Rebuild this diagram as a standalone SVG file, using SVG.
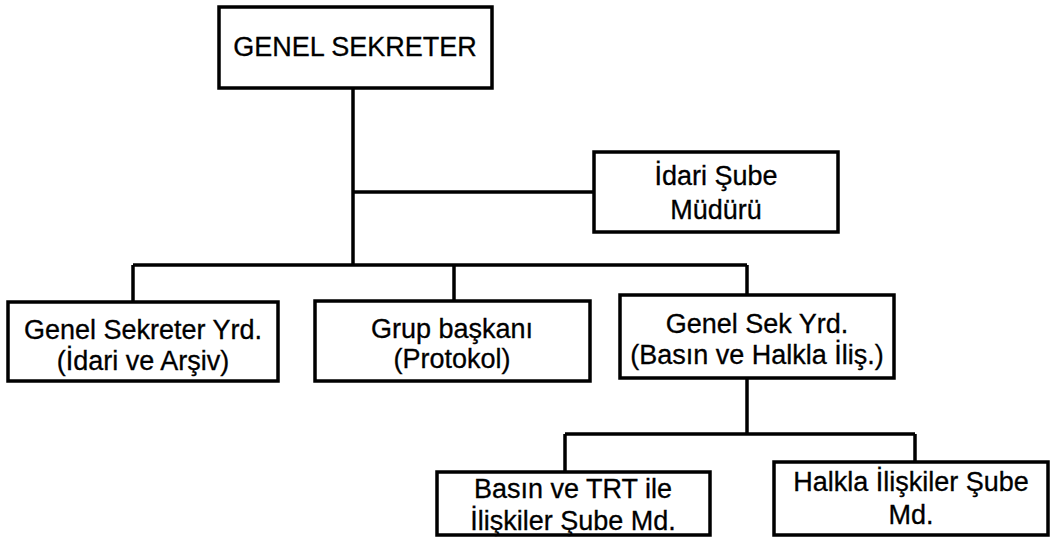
<svg xmlns="http://www.w3.org/2000/svg" width="1055" height="538" viewBox="0 0 1055 538">
<style>
.box{fill:#fff;stroke:#000;stroke-width:3.5}
.ln{fill:none;stroke:#000;stroke-width:3.5}
text{font-family:"Liberation Sans",Arial,Helvetica,sans-serif;font-size:27px;fill:#000;text-anchor:middle;stroke:#000;stroke-width:0.3}
</style>
<rect width="1055" height="538" fill="#fff"/>
<g id="connectors">
<path class="ln" d="M353 88V265"/>
<path class="ln" d="M353 192H594"/>
<path class="ln" d="M133 265H747"/>
<path class="ln" d="M133 265V302"/>
<path class="ln" d="M454 265V301"/>
<path class="ln" d="M747 265V295"/>
<path class="ln" d="M747 378V434"/>
<path class="ln" d="M565 434H915"/>
<path class="ln" d="M565 434V472"/>
<path class="ln" d="M915 434V462"/>
</g>
<g id="genel-sekreter">
<rect class="box" x="219" y="7" width="273" height="81"/>
<text x="355" y="56">GENEL SEKRETER</text>
</g>
<g id="idari-sube">
<rect class="box" x="594" y="152" width="244" height="80"/>
<text x="716" y="185">İdari Şube</text>
<text x="716" y="219">Müdürü</text>
</g>
<g id="gsy-idari">
<rect class="box" x="8" y="302" width="270" height="79"/>
<text x="143" y="339">Genel Sekreter Yrd.</text>
<text x="143" y="370">(İdari ve Arşiv)</text>
</g>
<g id="grup-baskani">
<rect class="box" x="315" y="301" width="275" height="80"/>
<text x="452" y="338">Grup başkanı</text>
<text x="452" y="368">(Protokol)</text>
</g>
<g id="gsy-basin">
<rect class="box" x="620" y="295" width="274" height="83"/>
<text x="757" y="333">Genel Sek Yrd.</text>
<text x="757" y="364">(Basın ve Halkla İliş.)</text>
</g>
<g id="basin-trt">
<rect class="box" x="437" y="472" width="273" height="63"/>
<text x="573" y="498">Basın ve TRT ile</text>
<text x="573" y="530">İlişkiler Şube Md.</text>
</g>
<g id="halkla-iliskiler">
<rect class="box" x="774" y="462" width="274" height="73"/>
<text x="911" y="491">Halkla İlişkiler Şube</text>
<text x="911" y="524">Md.</text>
</g>
</svg>
